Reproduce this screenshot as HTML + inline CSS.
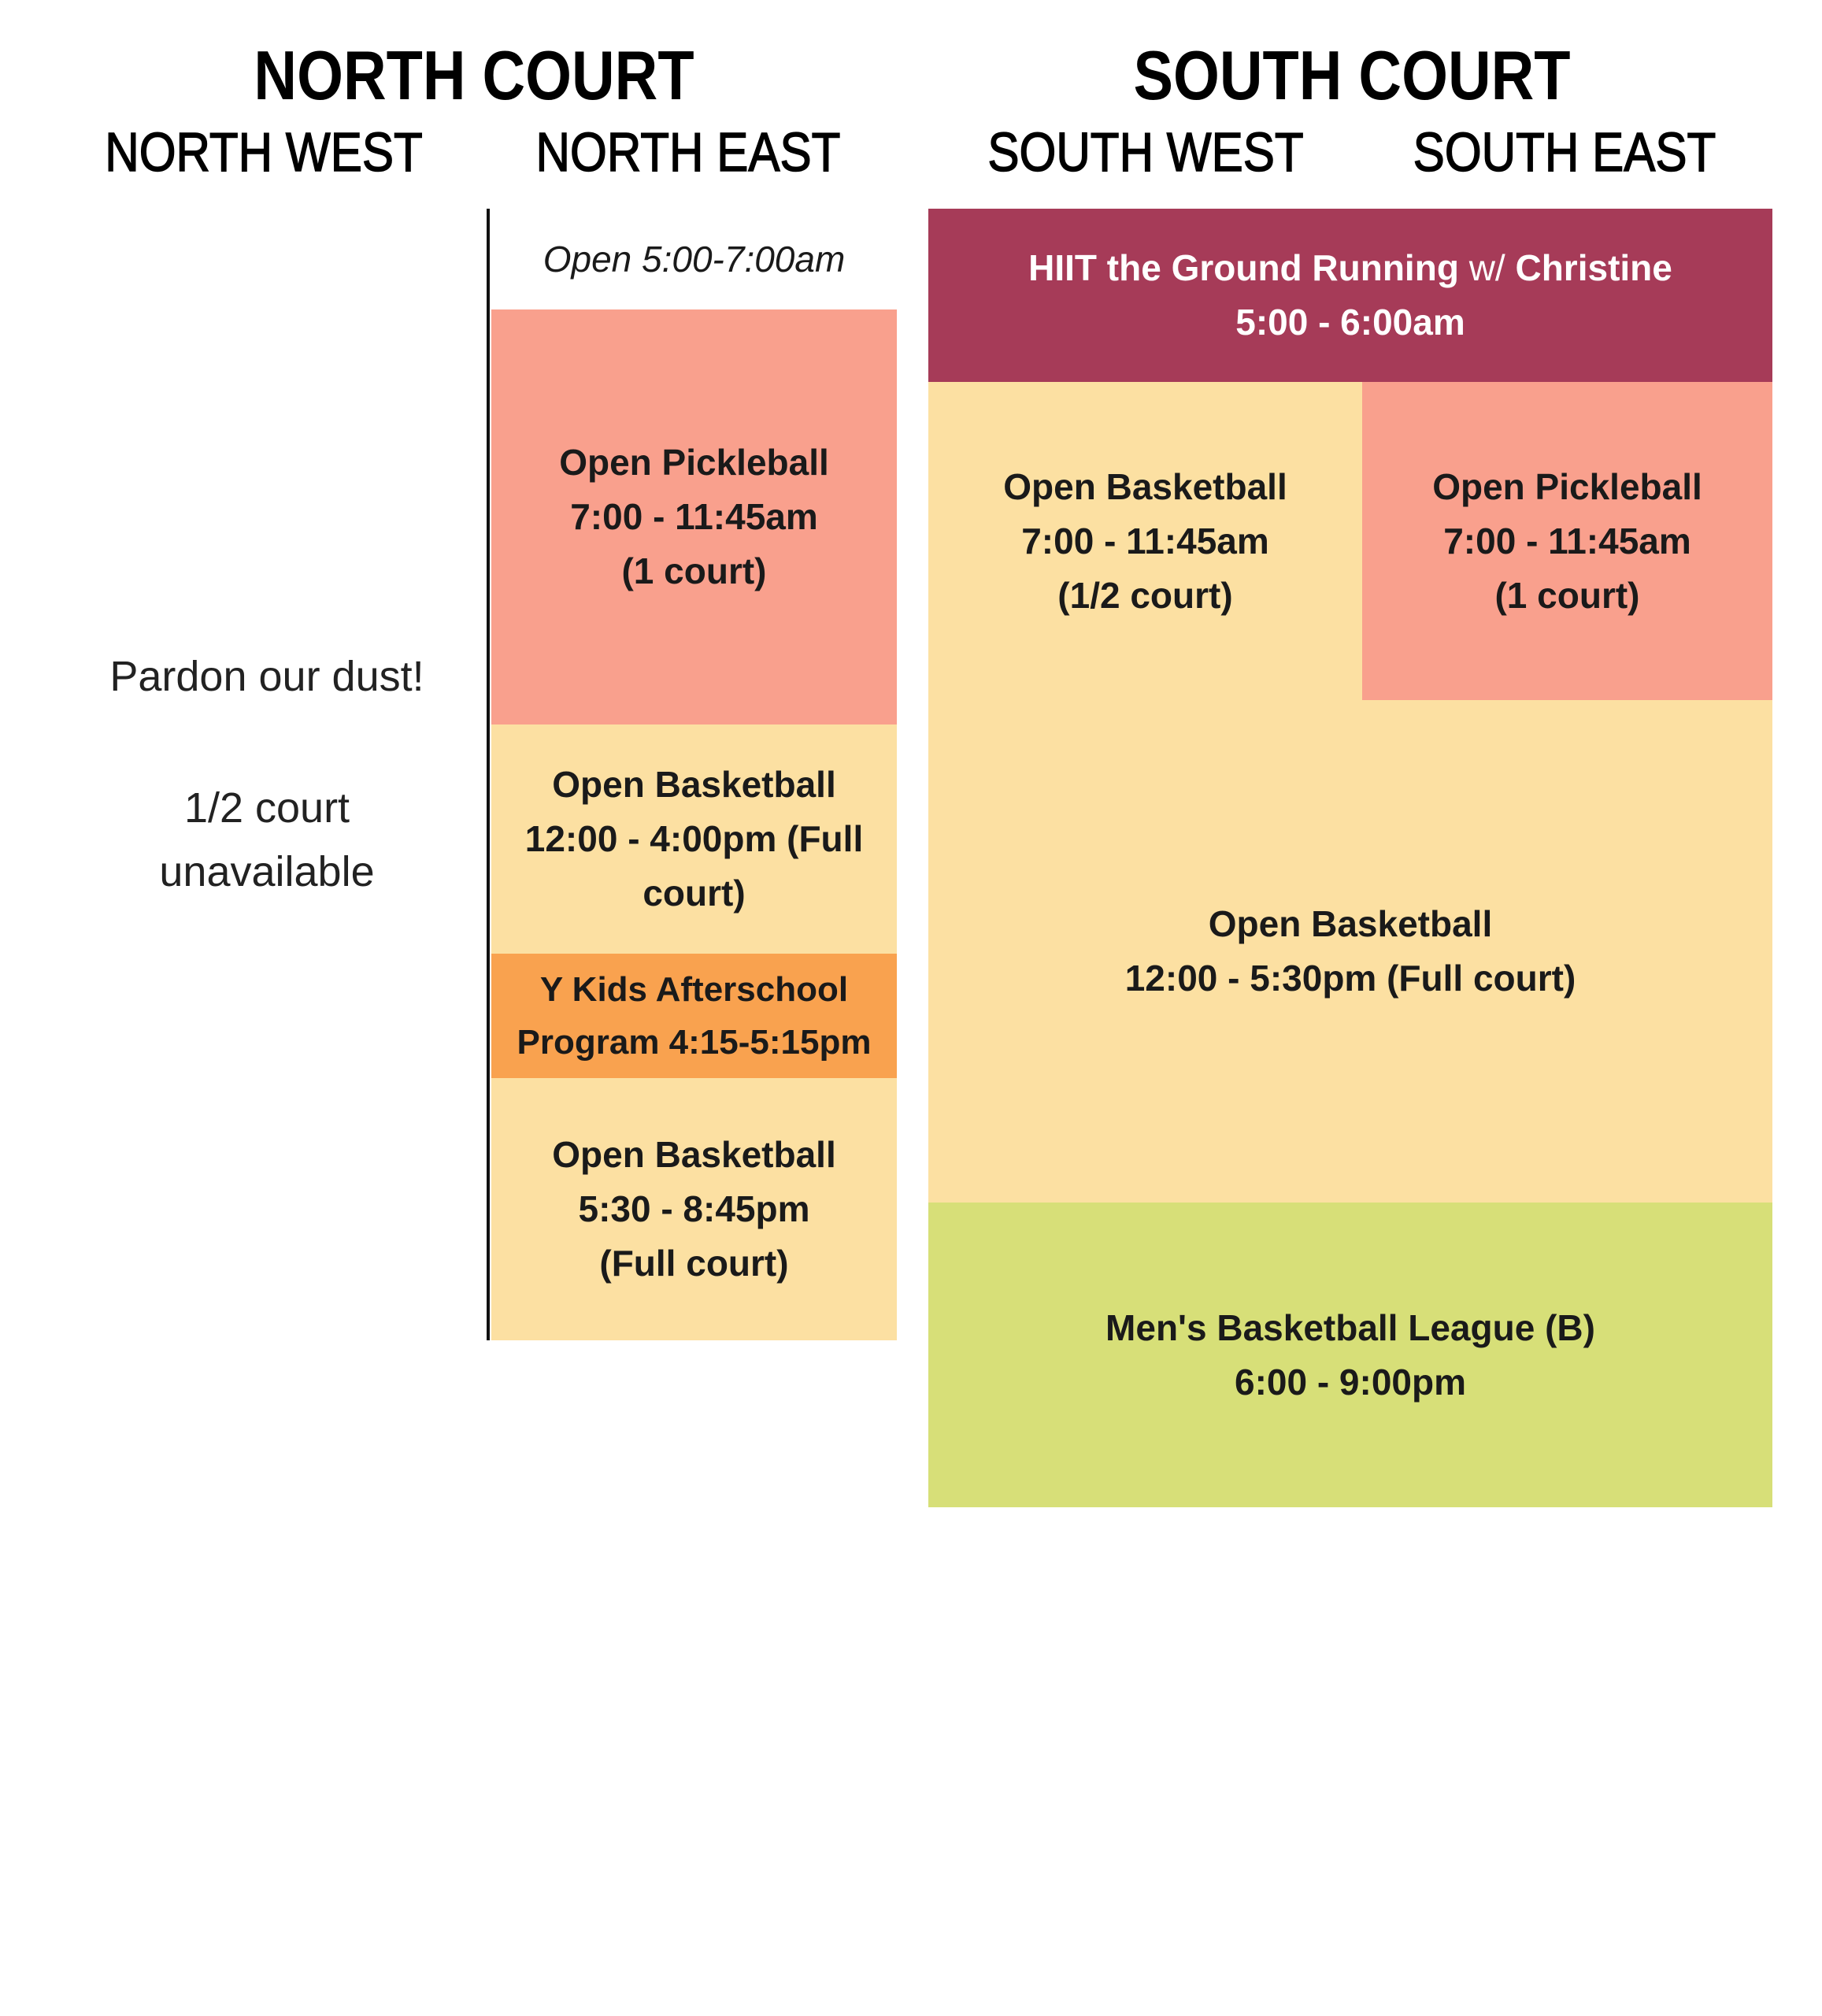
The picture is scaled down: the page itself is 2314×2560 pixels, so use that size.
<!DOCTYPE html>
<html><head><meta charset="utf-8"><style>
body{margin:0;width:2314px;height:2560px;background:#fff;position:relative;overflow:hidden;font-family:"Liberation Sans",sans-serif;}
.b{position:absolute;display:flex;align-items:center;justify-content:center;text-align:center;font-weight:bold;font-size:46px;line-height:69px;color:#1a1a1a;}
.h{position:absolute;font-weight:bold;color:#000;white-space:nowrap;transform:translateX(-50%) scaleX(0.86);}
.s{font-weight:normal;-webkit-text-stroke:1.5px #000;}
.t{position:absolute;font-size:54px;color:#222;white-space:nowrap;transform:translateX(-50%);text-align:center;}
</style></head><body>
<div class="h" style="left:602px;top:45px;font-size:88px;">NORTH COURT</div>
<div class="h" style="left:1717px;top:45px;font-size:88px;">SOUTH COURT</div>
<div class="h s" style="left:335px;top:153px;font-size:70px;">NORTH WEST</div>
<div class="h s" style="left:874px;top:153px;font-size:70px;">NORTH EAST</div>
<div class="h s" style="left:1455px;top:153px;font-size:70px;">SOUTH WEST</div>
<div class="h s" style="left:1987px;top:153px;font-size:70px;">SOUTH EAST</div>

<div style="position:absolute;left:618px;top:265px;width:4px;height:1437px;background:#111;"></div>
<div class="b" style="left:624px;top:265px;width:515px;height:128px;font-weight:normal;font-style:italic;"><div>Open 5:00-7:00am</div></div>
<div class="b" style="left:624px;top:393px;width:515px;height:527px;background:#f9a08d;"><div>Open Pickleball<br>7:00 - 11:45am<br>(1 court)</div></div>
<div class="b" style="left:624px;top:920px;width:515px;height:291px;background:#fce0a2;"><div>Open Basketball<br>12:00 - 4:00pm (Full<br>court)</div></div>
<div class="b" style="left:624px;top:1211px;width:515px;height:158px;background:#f9a24f;line-height:67px;font-size:44px;"><div>Y Kids Afterschool<br>Program 4:15-5:15pm</div></div>
<div class="b" style="left:624px;top:1369px;width:515px;height:333px;background:#fce0a2;"><div>Open Basketball<br>5:30 - 8:45pm<br>(Full court)</div></div>

<div class="b" style="left:1179px;top:265px;width:1072px;height:220px;background:#a63b58;color:#fff;"><div>HIIT the Ground Running <span style="font-weight:normal">w/</span> Christine<br>5:00 - 6:00am</div></div>
<div style="position:absolute;left:1179px;top:485px;width:1072px;height:1042px;background:#fce0a2;"></div>
<div class="b" style="left:1179px;top:485px;width:551px;height:404px;"><div>Open Basketball<br>7:00 - 11:45am<br>(1/2 court)</div></div>
<div class="b" style="left:1730px;top:485px;width:521px;height:404px;background:#f9a08d;"><div>Open Pickleball<br>7:00 - 11:45am<br>(1 court)</div></div>
<div class="b" style="left:1179px;top:889px;width:1072px;height:638px;"><div>Open Basketball<br>12:00 - 5:30pm (Full court)</div></div>
<div class="b" style="left:1179px;top:1527px;width:1072px;height:387px;background:#d7df78;"><div>Men's Basketball League (B)<br>6:00 - 9:00pm</div></div>

<div class="t" style="left:339px;top:828px;">Pardon our dust!</div>
<div class="t" style="left:339px;top:986px;line-height:81px;">1/2 court<br>unavailable</div>
</body></html>
